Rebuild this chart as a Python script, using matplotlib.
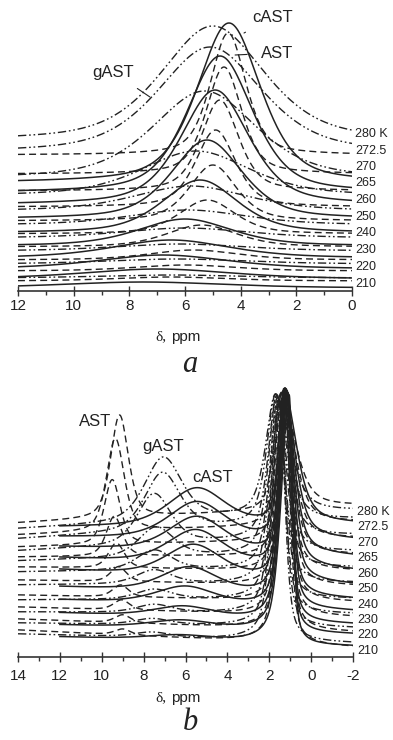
import numpy as np
import matplotlib.pyplot as plt
from matplotlib.ticker import MultipleLocator

plt.rcParams['font.family'] = ['Liberation Sans', 'DejaVu Sans']

temps = ['210', '220', '230', '240', '250', '260', '265', '270', '272.5', '280 K']

# ---- panel a: (peak centre ppm, height, half width, baseline) per temperature
a_label_y = [7, 24, 41, 58, 74, 91, 108, 124, 140, 157]

a_cast_c = [7.5, 7.0, 6.8, 6.5, 6.0, 5.46, 5.21, 4.92, 4.74, 4.42]
a_cast_h = [6, 10, 14, 18, 27, 53, 79, 115, 137, 160]
a_cast_w = [3.5, 3.2, 2.8, 2.5, 2.0, 1.6, 1.5, 1.45, 1.4, 1.35]
a_cast_b = [3, 12, 22, 33, 45, 58, 72, 86, 98, 108]

a_ast_c = [6.5, 6.0, 5.7, 5.4, 5.2, 5.0, 4.9, 4.75, 4.6, 4.45]
a_ast_h = [4, 6, 10, 22, 34, 56, 77, 91, 107, 122]
a_ast_w = [2.4, 2.2, 1.9, 1.5, 1.2, 1.0, 0.85, 0.8, 0.75, 0.75]
a_ast_b = [10, 20, 31, 44, 57, 70, 84, 100, 117, 136]

a_gast_c = [6.5, 6.3, 6.2, 6.0, 5.9, 5.8, 5.6, 5.3, 5.1, 5.0]
a_gast_h = [3, 5, 7, 10, 15, 25, 45, 88, 106, 115]
a_gast_w = [3.0, 3.0, 2.8, 2.7, 2.5, 2.4, 2.3, 2.2, 2.2, 2.2]
a_gast_b = [13, 27, 40, 53, 66, 80, 95, 112, 138, 150]

# ---- panel b: baseline at left/right end, own peak, and the big peak near 1.2 ppm
b_label_y = [6, 22, 37, 52, 68, 83, 99, 114, 130, 145]

b_cast_left = [20, 32, 44, 57, 70, 87, 99, 110, 120, 130]
b_cast_right = [11, 23, 33, 46, 58, 72, 86, 100, 116, 132]
b_cast_c = [6.3, 6.2, 6.1, 6.0, 5.8, 5.6, 5.5, 5.45, 5.45, 5.45]
b_cast_h = [5, 8, 11, 18, 25, 32, 34, 35, 37, 38]
b_cast_w = [1.8, 1.8, 1.7, 1.7, 1.6, 1.6, 1.6, 1.6, 1.6, 1.6]
b_cast_bc = [1.05, 1.1, 1.15, 1.15, 1.2, 1.2, 1.25, 1.25, 1.3, 1.3]
b_cast_bh = [249, 239, 229, 217, 205, 191, 178, 164, 149, 133]
b_cast_bwl = [0.45, 0.42, 0.4, 0.38, 0.36, 0.34, 0.32, 0.3, 0.3, 0.3]
b_cast_bwr = [0.2, 0.22, 0.25, 0.28, 0.32, 0.38, 0.45, 0.5, 0.6, 0.7]

b_ast_left = [27, 38, 50, 62, 77, 90, 100, 110, 122, 134]
b_ast_right = [10, 25, 40, 55, 71, 86, 102, 118, 134, 150]
b_ast_c = [9.0, 9.0, 9.05, 9.1, 9.2, 9.3, 9.4, 9.5, 9.35, 9.15]
b_ast_h = [6, 8, 10, 12, 15, 25, 40, 65, 93, 103]
b_ast_w = [0.45, 0.45, 0.45, 0.45, 0.45, 0.45, 0.45, 0.45, 0.5, 0.5]
b_ast_bc = [1.25, 1.25, 1.3, 1.3, 1.3, 1.35, 1.35, 1.4, 1.4, 1.45]
b_ast_bh = [246, 234, 221, 208, 193, 179, 164, 150, 133, 117]
b_ast_bwl = [0.4, 0.38, 0.36, 0.35, 0.34, 0.33, 0.33, 0.33, 0.35, 0.38]
b_ast_bwr = [0.28, 0.3, 0.33, 0.36, 0.4, 0.45, 0.52, 0.6, 0.7, 0.8]

b_gast_left = [23, 34, 45, 57, 72, 85, 96, 106, 118, 128]
b_gast_right = [14, 29, 43, 58, 74, 89, 105, 121, 137, 145]
b_gast_c = [7.6, 7.6, 7.5, 7.5, 7.5, 7.5, 7.4, 7.5, 7.1, 7.06]
b_gast_h = [5, 6, 8, 10, 14, 20, 30, 51, 58, 64]
b_gast_w = [1.0, 1.0, 1.0, 1.0, 1.0, 1.0, 1.0, 0.95, 1.0, 1.05]
b_gast_bc = [1.5, 1.5, 1.55, 1.55, 1.6, 1.6, 1.65, 1.65, 1.7, 1.7]
b_gast_bh = [239, 227, 214, 201, 186, 172, 158, 143, 129, 121]
b_gast_bwl = [0.42, 0.42, 0.42, 0.42, 0.43, 0.44, 0.46, 0.48, 0.5, 0.55]
b_gast_bwr = [0.3, 0.32, 0.35, 0.38, 0.42, 0.48, 0.55, 0.62, 0.7, 0.8]


def pv(x, c, h, w, eta=0.5):
    lor = w**2 / ((x - c)**2 + w**2)
    gau = np.exp(-np.log(2) * ((x - c) / w)**2)
    return h * (eta * lor + (1 - eta) * gau)


def split_pv(x, c, h, wl, wr):
    return pv(x, c, h, np.where(x > c, wl, wr), eta=0.6)


ink = '#222222'
styles = {
    'cAST': dict(ls='-', lw=1.1),
    'AST': dict(ls=(0, (5, 3)), lw=1.0),
    'gAST': dict(ls=(0, (6, 2, 1.2, 2, 1.2, 2)), lw=1.0),
}

fig = plt.figure(figsize=(3.93, 7.40), dpi=100)
ax1 = fig.add_axes([18 / 393, 1 - 291 / 740, 334 / 393, 281 / 740])
ax2 = fig.add_axes([18 / 393, 1 - 657 / 740, 335 / 393, 277 / 740])

# panel a
xa = np.linspace(12, 0, 700)
for i in range(len(temps)):
    ax1.plot(xa, a_gast_b[i] + pv(xa, a_gast_c[i], a_gast_h[i], a_gast_w[i]), color=ink, **styles['gAST'])
    ax1.plot(xa, a_ast_b[i] + pv(xa, a_ast_c[i], a_ast_h[i], a_ast_w[i]), color=ink, **styles['AST'])
    ax1.plot(xa, a_cast_b[i] + pv(xa, a_cast_c[i], a_cast_h[i], a_cast_w[i]), color=ink, **styles['cAST'])
    ax1.text(-0.11, a_label_y[i], temps[i], fontsize=9, color=ink, va='center', ha='left', clip_on=False)

ax1.set_xlim(12, 0)
ax1.set_ylim(0, 281)

ax1.annotate('cAST', xy=(3.88, 258), xytext=(2.87, 273), fontsize=12, color=ink, ha='center', va='center',
             arrowprops=dict(arrowstyle='-', color=ink, lw=0.8, shrinkA=6, shrinkB=0))
ax1.annotate('AST', xy=(4.2, 236), xytext=(2.69, 238), fontsize=12, color=ink, ha='center', va='center',
             arrowprops=dict(arrowstyle='-', color=ink, lw=0.8, shrinkA=8, shrinkB=0))
ax1.annotate('gAST', xy=(7.26, 194), xytext=(8.59, 219), fontsize=12, color=ink, ha='center', va='center',
             arrowprops=dict(arrowstyle='-', color=ink, lw=0.8, shrinkA=8, shrinkB=0))

# panel b
x_c = np.linspace(12, -2, 1200)
x_o = np.linspace(14, -2, 1400)
for i in range(len(temps)):
    base = b_gast_left[i] + (b_gast_right[i] - b_gast_left[i]) * (14 - x_o) / 16
    y = base + pv(x_o, b_gast_c[i], b_gast_h[i], b_gast_w[i]) + split_pv(x_o, b_gast_bc[i], b_gast_bh[i], b_gast_bwl[i], b_gast_bwr[i])
    ax2.plot(x_o, y, color=ink, **styles['gAST'])
    base = b_ast_left[i] + (b_ast_right[i] - b_ast_left[i]) * (14 - x_o) / 16
    y = base + pv(x_o, b_ast_c[i], b_ast_h[i], b_ast_w[i]) + split_pv(x_o, b_ast_bc[i], b_ast_bh[i], b_ast_bwl[i], b_ast_bwr[i])
    ax2.plot(x_o, y, color=ink, **styles['AST'])
    base = b_cast_left[i] + (b_cast_right[i] - b_cast_left[i]) * (12 - x_c) / 14
    y = base + pv(x_c, b_cast_c[i], b_cast_h[i], b_cast_w[i]) + split_pv(x_c, b_cast_bc[i], b_cast_bh[i], b_cast_bwl[i], b_cast_bwr[i])
    ax2.plot(x_c, y, color=ink, **styles['cAST'])
    ax2.text(-2.2, b_label_y[i], temps[i], fontsize=9, color=ink, va='center', ha='left', clip_on=False)

ax2.set_xlim(14, -2)
ax2.set_ylim(0, 277)
ax2.text(10.32, 235, 'AST', fontsize=12, color=ink, ha='center', va='center')
ax2.text(7.06, 210, 'gAST', fontsize=12, color=ink, ha='center', va='center')
ax2.text(4.7, 180, 'cAST', fontsize=12, color=ink, ha='center', va='center')

for ax in (ax1, ax2):
    for s in ('left', 'right', 'top'):
        ax.spines[s].set_visible(False)
    ax.spines['bottom'].set_color('#333333')
    ax.spines['bottom'].set_linewidth(1.2)
    ax.set_yticks([])
    ax.xaxis.set_major_locator(MultipleLocator(2))
    ax.xaxis.set_minor_locator(MultipleLocator(1))
    ax.tick_params(axis='x', which='major', direction='inout', length=7, width=1.0, color='#333333',
                   labelsize=11, labelcolor=ink, pad=2)
    ax.tick_params(axis='x', which='minor', direction='out', length=3, width=1.0, color='#333333')
    ax.patch.set_visible(False)

ax1.set_xticks([12, 10, 8, 6, 4, 2, 0])
ax1.set_xticklabels(['12', '10', '8', '6', '4', '2', '0'])
ax2.set_xticks([14, 12, 10, 8, 6, 4, 2, 0, -2])
ax2.set_xticklabels(['14', '12', '10', '8', '6', '4', '2', '0', '-2'])
ax2.tick_params(axis='x', which='major', pad=5)

# axis titles and panel letters
for yp in (337, 698):
    fig.text(166 / 393, 1 - yp / 740, 'δ,', fontsize=11, family='Liberation Serif', color=ink, ha='right', va='center')
    fig.text(171 / 393, 1 - yp / 740, 'ppm', fontsize=11, color=ink, ha='left', va='center')
fig.text(190 / 393, 1 - 364 / 740, 'a', fontsize=22, family='Liberation Serif', style='italic', color=ink, ha='center', va='center')
fig.text(190 / 393, 1 - 722 / 740, 'b', fontsize=22, family='Liberation Serif', style='italic', color=ink, ha='center', va='center')

fig.savefig('out.png', dpi=100, facecolor='white')
